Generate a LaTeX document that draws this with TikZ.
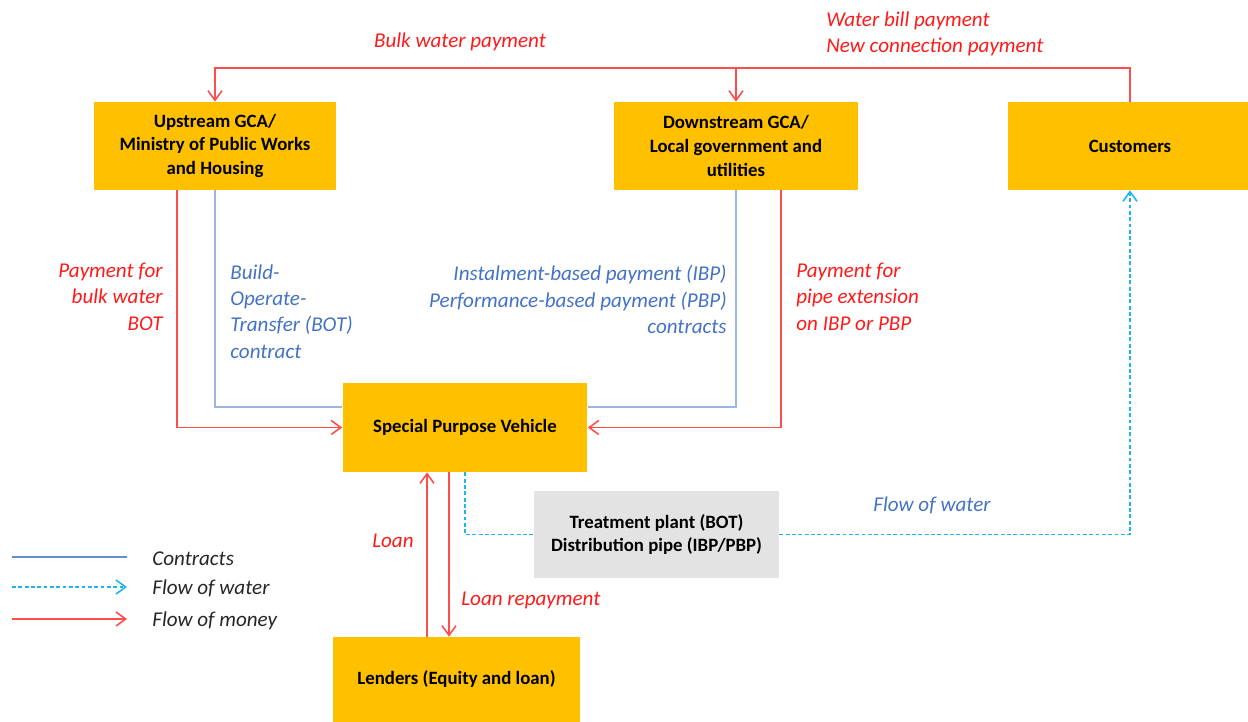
\documentclass[tikz,border=0pt]{standalone}
\usepackage{fontspec}
\setmainfont{Carlito}
\usetikzlibrary{arrows.meta}
\definecolor{boxyellow}{HTML}{FFC000}
\definecolor{boxgray}{HTML}{E3E3E3}
\definecolor{moneyline}{HTML}{FF4D4D}
\definecolor{moneytext}{HTML}{FF1A1A}
\definecolor{contractline}{HTML}{9DB5E0}
\definecolor{contracttext}{HTML}{4472C4}
\definecolor{waterline}{HTML}{1FB4EC}
\tikzset{
  x=0.02cm, y=-0.02cm,
  tip/.style={-{Straight Barb[length=5.5pt,width=8pt,line width=0.9pt]}},
  ybox/.style={rectangle, fill=boxyellow, inner sep=0pt, align=center,
    font=\bfseries\fontsize{10.7}{13.6}\selectfont},
  gbox/.style={ybox, fill=boxgray},
  money/.style={draw=moneyline, line width=0.85pt},
  contract/.style={draw=contractline, line width=0.6pt},
  water/.style={draw=waterline, line width=0.75pt, dash pattern=on 2.2pt off 1.4pt},
  mlabel/.style={inner sep=0pt, text=moneytext, font=\itshape\fontsize{12}{15}\selectfont},
  clabel/.style={inner sep=0pt, text=contracttext, font=\itshape\fontsize{12}{15}\selectfont},
  lglabel/.style={inner sep=0pt, text=black!85, font=\itshape\fontsize{12}{15}\selectfont}
}
\begin{document}
\begin{tikzpicture}
\useasboundingbox (0,0) rectangle (1248,722);

% boxes
\node[ybox, minimum width=4.86cm, minimum height=1.76cm] (up) at (215,146)
  {Upstream GCA/\\Ministry of Public Works\\and Housing};
\node[ybox, minimum width=4.90cm, minimum height=1.76cm] (down) at (736,146)
  {Downstream GCA/\\Local government and\\utilities};
\node[ybox, minimum width=4.88cm, minimum height=1.76cm] (cust) at (1130,146)
  {Customers};
\node[ybox, minimum width=4.90cm, minimum height=1.78cm] (spv) at (465,427.5)
  {Special Purpose Vehicle};
\node[gbox, minimum width=4.90cm, minimum height=1.74cm] (treat) at (656.5,534.5)
  {Treatment plant (BOT)\\Distribution pipe (IBP/PBP)};
\node[ybox, minimum width=4.94cm, minimum height=1.70cm] (lend) at (456.5,679.5)
  {Lenders (Equity and loan)};

% top money flows
\coordinate (topy) at (0,68);
\draw[money, tip] (cust.north) |- (topy -| up.north) -- (up.north);
\draw[money, tip] (topy -| down.north) -- (down.north);

% left side
\draw[contract] (up.south) |- ([yshift=0.41cm]spv.west);
\draw[money, tip] ([xshift=-0.76cm]up.south) |- (spv.west);

% right side
\draw[contract] (down.south) |- ([yshift=0.41cm]spv.east);
\draw[money, tip] ([xshift=0.9cm]down.south) |- (spv.east);

% water
\draw[water] (spv.south) |- (treat.west);
\draw[water, tip] (treat.east) -| (cust.south);

% loans
\coordinate (lx) at (427,0);
\coordinate (rx) at (449,0);
\draw[money, tip] (lend.north -| lx) -- (spv.south -| lx);
\draw[money, tip] (spv.south -| rx) -- (lend.north -| rx);

% labels
\node[mlabel] (lbulk) at (460,42) {Bulk water payment};
\node[mlabel, anchor=west, align=left] (lbill) at (826,34) {Water bill payment\\New connection payment};
\node[mlabel, anchor=east, align=right] (lpbw) at (163,296.5) {Payment for\\bulk water\\BOT};
\node[clabel, anchor=west, align=left] (lbot) at (230,311.5) {Build-\\Operate-\\Transfer (BOT)\\contract};
\node[clabel, anchor=east, align=right] (libp) at (727,299.5) {Instalment-based payment (IBP)\\Performance-based payment (PBP)\\contracts};
\node[mlabel, anchor=west, align=left] (lpipe) at (796,296.5) {Payment for\\pipe extension\\on IBP or PBP};
\node[clabel] (lflow) at (932,505) {Flow of water};
\node[mlabel] (lloan) at (393,541) {Loan};
\node[mlabel, anchor=west] (lrepay) at (461,600) {Loan repayment};

% legend
\coordinate (g1a) at (12,557); \coordinate (g1b) at (127,557);
\coordinate (g2a) at (12,587); \coordinate (g2b) at (127,587);
\coordinate (g3a) at (12,619); \coordinate (g3b) at (127,619);
\draw[contract, draw=contracttext!80] (g1a) -- (g1b);
\draw[water, tip] (g2a) -- (g2b);
\draw[money, tip] (g3a) -- (g3b);
\node[lglabel, anchor=west] (lg1) at (152,559) {Contracts};
\node[lglabel, anchor=west] (lg2) at (152,588) {Flow of water};
\node[lglabel, anchor=west] (lg3) at (152,621) {Flow of money};
\end{tikzpicture}
\end{document}
